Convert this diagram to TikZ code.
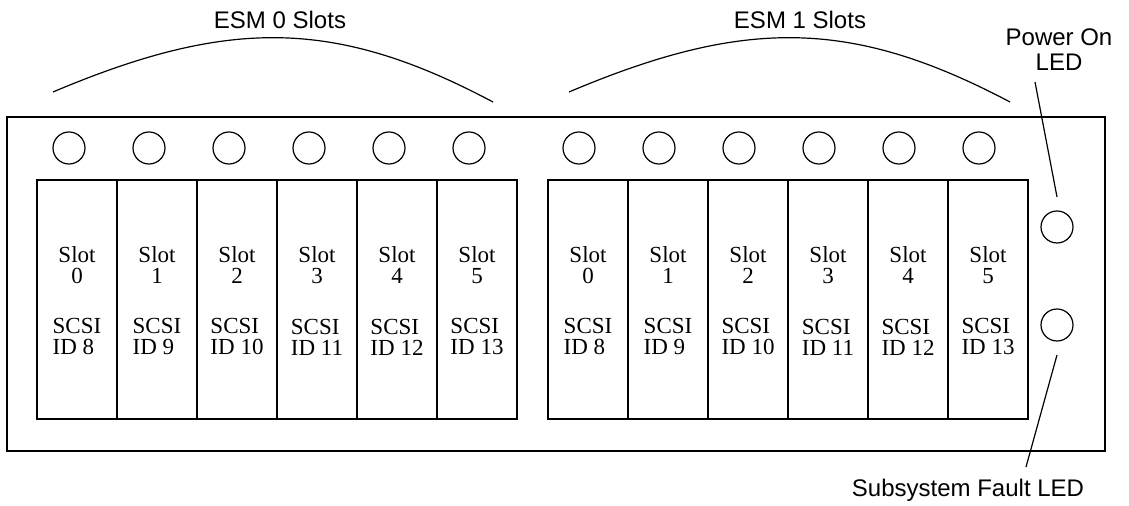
\documentclass[tikz,border=0pt]{standalone}
\usepackage{fontspec}
\setmainfont{Liberation Serif}
\setsansfont{Liberation Sans}
\usepackage{tikz}
\usetikzlibrary{positioning}

\begin{document}
\begin{tikzpicture}[
    x=0.5pt, y=-0.5pt,
    chassis/.style={draw, line width=1pt},
    slotbox/.style={rectangle, draw, line width=0.6pt, minimum width=40pt,
        minimum height=119.5pt, inner sep=0pt},
    led/.style={circle, draw, line width=0.6pt, minimum size=16pt, inner sep=0pt},
    slottext/.style={font=\fontsize{11.5}{10.5}\selectfont, inner sep=0pt},
    callout/.style={font=\sffamily\fontsize{12}{12.5}\selectfont, align=center, inner sep=0pt},
    brace/.style={line width=0.6pt},
    leader/.style={line width=0.6pt},
    ]
    \useasboundingbox (0,0) rectangle (1129,506);
    % Chassis
    \node[chassis, rectangle, minimum width=549pt, minimum height=167pt, inner sep=0pt]
      (chassis) at (556,284) {};
    % ESM 0 slots
    \foreach \i/\id in {0/8,1/9,2/10,3/11,4/12,5/13} {
      \node[led] (a\i) at (69+80*\i,148) {};
      \node[slotbox] (sa\i) at (77+80*\i,299.5) {};
      \node[slottext, align=center] (na\i) at (77+80*\i,265) {Slot\\\i};
      \node[slottext, align=left]   (ia\i) at (77+80*\i,337) {SCSI\\ID \id};
    }
    % ESM 1 slots
    \foreach \i/\id in {0/8,1/9,2/10,3/11,4/12,5/13} {
      \node[led] (b\i) at (579+80*\i,148) {};
      \node[slotbox] (sb\i) at (588+80*\i,299.5) {};
      \node[slottext, align=center] (nb\i) at (588+80*\i,265) {Slot\\\i};
      \node[slottext, align=left]   (ib\i) at (588+80*\i,337) {SCSI\\ID \id};
    }
    % Status LEDs
    \node[led] (pwr)   at (1057,227) {};
    \node[led] (fault) at (1057,325) {};
    % Group labels
    \node[callout] (esm0) at (280,20) {ESM 0 Slots};
    \node[callout] (esm1) at (800,20) {ESM 1 Slots};
    \coordinate (esm0l) at (53,92);
    \coordinate (esm0r) at (493,102);
    \coordinate (esm1l) at (569,92);
    \coordinate (esm1r) at (1010,102);
    \draw[brace] (esm0l) .. controls (228,18) and (335,18) .. (esm0r);
    \draw[brace] (esm1l) .. controls (744,18) and (851,18) .. (esm1r);
    % LED callouts
    \node[callout] (pwrlbl) at (1059,50) {Power On\\LED};
    \node[callout] (faultlbl) at (968,490) {Subsystem Fault LED};
    \coordinate (pwrtop) at (1035,82);
    \coordinate (pwrend) at (1057,197);
    \coordinate (faulttop) at (1057,355);
    \coordinate (faultend) at (1026,467);
    \draw[leader] (pwrtop) -- (pwrend);
    \draw[leader] (faulttop) -- (faultend);
\end{tikzpicture}
\end{document}
